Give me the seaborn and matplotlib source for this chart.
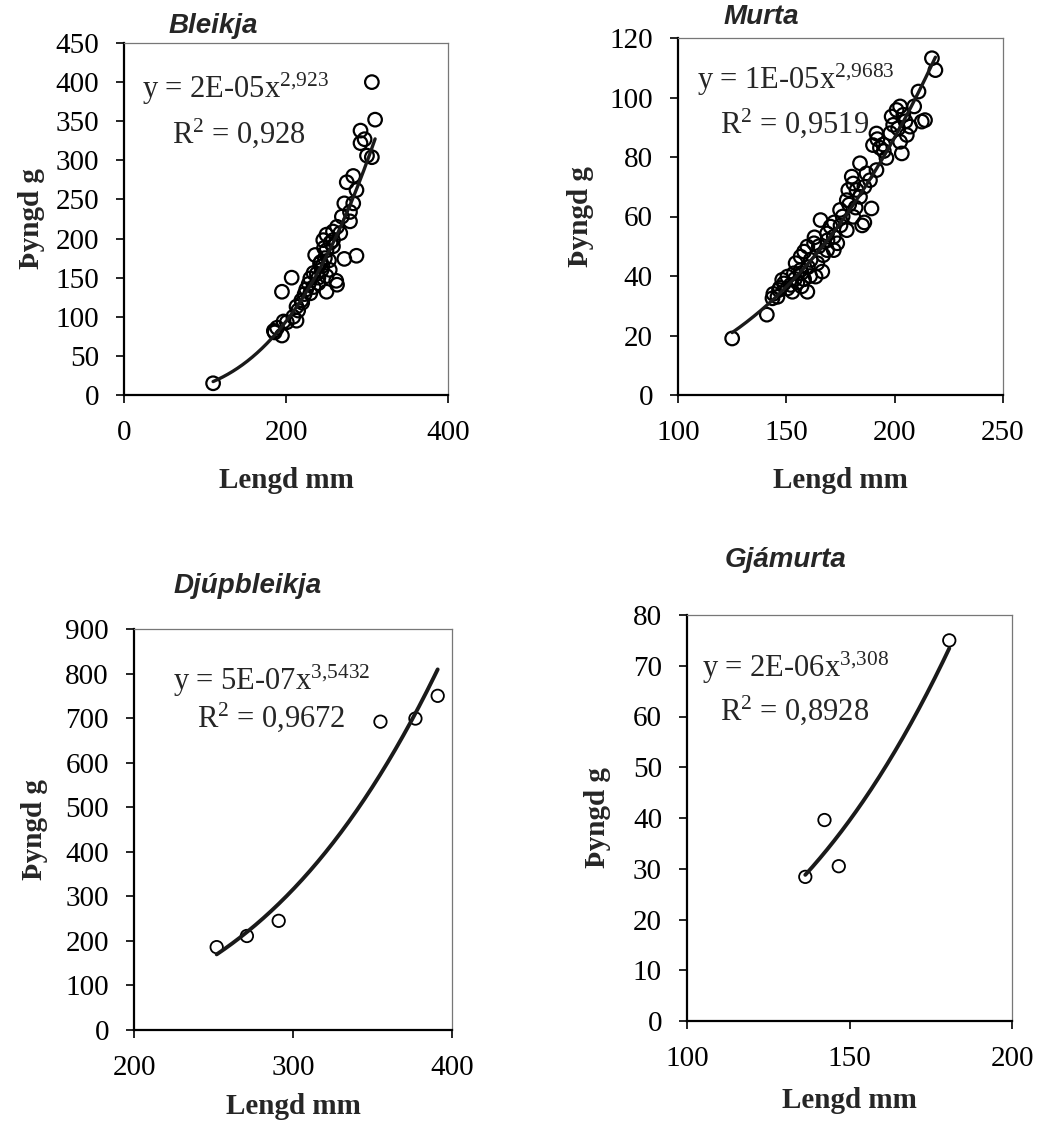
import numpy as np
import pandas as pd
import matplotlib
matplotlib.use("Agg")
import matplotlib.pyplot as plt
import seaborn as sns

# ---------------- data ----------------
bleikja_x = [110, 186, 189, 185, 195, 197, 201, 209, 213, 195, 207, 213, 219, 223, 215, 220,
             230, 234, 234, 240, 244, 250, 254, 250, 263, 262, 236, 242, 250, 253, 258, 245,
             248, 246, 258, 250, 258, 267, 263, 255, 269, 279, 279, 272, 283, 287, 275, 283,
             272, 287, 300, 306, 292, 297, 292, 310, 306, 225, 230, 240, 228, 238, 243, 247]
bleikja_y = [15, 80, 86, 82, 76, 94, 93, 100, 95, 132, 150, 113, 121, 129, 108, 118,
             149, 156, 138, 143, 160, 152, 160, 132, 141, 146, 179, 168, 185, 172, 190, 165,
             175, 198, 198, 205, 209, 207, 215, 195, 228, 222, 234, 245, 245, 262, 272, 280,
             174, 178, 306, 304, 322, 327, 338, 352, 400, 135, 130, 150, 142, 155, 170, 188]

murta_x = [125, 141, 143.6, 145.9, 146.6, 148.9, 150.5, 148.1, 152.8, 159.7,
           150.5, 153.5, 156.6, 155.1, 158.2, 144, 147, 152, 154, 157,
           154.3, 156.6, 158.2, 159.7, 162.8, 161.2, 164.3, 163.5, 166.6, 160,
           165.8, 170.4, 171.9, 168.8, 168.8, 171.9, 173.5, 167, 165, 163,
           174.8, 177.9, 178.6, 180.9, 180.2, 182.4, 184, 177.9, 180.9, 176,
           185, 186, 189.3, 184, 187, 188.6, 191.6, 179, 182, 175,
           191.6, 194.7, 193.2, 196.2, 190, 192,
           198.6, 200.9, 202.5, 204, 199.3, 201.6, 202.5, 205.6, 203.3, 207.1, 212.5, 214, 198, 205,
           211, 217.2, 218.8, 209, 169, 172, 186, 195, 157, 161]
murta_y = [19, 27, 32.5, 33, 35.3, 37.5, 35.8, 38.7, 34.7, 34.7,
           39.8, 40.9, 42, 37.8, 38.9, 34, 36, 37, 39, 36.5,
           44.3, 46.5, 48.2, 49.9, 51, 45.4, 44.3, 39.8, 41.5, 43,
           58.8, 56.6, 53.2, 54.3, 48.7, 48.7, 51, 47, 50, 53,
           62.2, 65.5, 68.9, 71.1, 73.4, 68.9, 66.6, 55.4, 59.9, 60,
           57, 58, 62.7, 77.9, 74.5, 72.2, 75.6, 64, 63, 57,
           87.9, 84.2, 83.1, 79.7, 84, 86,
           93.6, 95.8, 97, 94.2, 90.8, 89.6, 85.1, 87.4, 81.2, 90.2, 91.9, 92.4, 88, 92,
           102, 113.2, 109.2, 97, 52, 58, 70, 82, 41, 40]

djup_x = [252, 271, 291, 355, 377, 391]
djup_y = [186, 211, 245, 692, 699, 750]

gja_x = [136.4, 142.3, 146.7, 180.7]
gja_y = [28.4, 39.6, 30.5, 75.0]

titles = ["Bleikja", "Murta", "Djúpbleikja", "Gjámurta"]
equations = [r"y = 2E-05x$^{\mathrm{2{,}923}}$", r"y = 1E-05x$^{\mathrm{2{,}9683}}$",
             r"y = 5E-07x$^{\mathrm{3{,}5432}}$", r"y = 2E-06x$^{\mathrm{3{,}308}}$"]
r2_texts = [r"R$^{\mathrm{2}}$ = 0,928", r"R$^{\mathrm{2}}$ = 0,9519",
            r"R$^{\mathrm{2}}$ = 0,9672", r"R$^{\mathrm{2}}$ = 0,8928"]
x_ticks = [[0, 200, 400], [100, 150, 200, 250], [200, 300, 400], [100, 150, 200]]
y_ticks = [list(range(0, 451, 50)), list(range(0, 121, 20)),
           list(range(0, 901, 100)), list(range(0, 81, 10))]
x_label = "Lengd mm"
y_label = "Þyngd g"

# ---------------- style ----------------
sns.set_style("ticks")
plt.rcParams["font.family"] = ["Liberation Serif", "DejaVu Serif"]
plt.rcParams["mathtext.fontset"] = "custom"
plt.rcParams["mathtext.rm"] = "Liberation Serif"
plt.rcParams["mathtext.it"] = "Liberation Serif:italic"

W, H = 1038, 1137
fig = plt.figure(figsize=(W / 100, H / 100), dpi=100)
fig.patch.set_facecolor("white")


def box(l, t, r, b):
    return [l / W, 1 - b / H, (r - l) / W, (b - t) / H]


layout = [
    dict(box=(124, 43, 448, 395), s=95, mlw=1.6, llw=2.4,
         title=(213, 33, "center"), eq=(142, 98), r2=(172, 143), ylab=-0.245, xpad=15),
    dict(box=(678, 38, 1003, 395), s=95, mlw=1.6, llw=2.4,
         title=(761, 24, "center"), eq=(697, 89), r2=(720, 133), ylab=-0.26, xpad=15),
    dict(box=(134, 629, 452, 1030), s=80, mlw=1.3, llw=2.8,
         title=(248, 593, "center"), eq=(173, 690), r2=(197, 727), ylab=-0.27, xpad=9),
    dict(box=(687, 615, 1012, 1021), s=80, mlw=1.3, llw=2.8,
         title=(786, 567, "center"), eq=(702, 677), r2=(720, 720), ylab=-0.235, xpad=11),
]
datasets = [(bleikja_x, bleikja_y), (murta_x, murta_y), (djup_x, djup_y), (gja_x, gja_y)]

for i, (lay, (xv, yv)) in enumerate(zip(layout, datasets)):
    ax = fig.add_axes(box(*lay["box"]))
    df = pd.DataFrame({"x": xv, "y": yv})
    sns.scatterplot(data=df, x="x", y="y", ax=ax, marker="o", s=lay["s"],
                    facecolor="none", edgecolor="black", linewidth=lay["mlw"], zorder=2)
    # power trendline fitted on log-log scale (as Excel does)
    b, a = np.polyfit(np.log(df["x"]), np.log(df["y"]), 1)
    xs = np.linspace(df["x"].min(), df["x"].max(), 200)
    fit = pd.DataFrame({"x": xs, "y": np.exp(a) * xs ** b})
    sns.lineplot(data=fit, x="x", y="y", ax=ax, color="#1a1a1a", lw=lay["llw"],
                 estimator=None, zorder=3)

    ax.set_xlim(x_ticks[i][0], x_ticks[i][-1])
    ax.set_ylim(y_ticks[i][0], y_ticks[i][-1])
    ax.set_xticks(x_ticks[i])
    ax.set_yticks(y_ticks[i])
    ax.tick_params(axis="both", direction="out", length=6, width=1.2, colors="black",
                   labelsize=21, pad=12)
    for sp in ["left", "bottom"]:
        ax.spines[sp].set_linewidth(1.6)
        ax.spines[sp].set_color("black")
    for sp in ["top", "right"]:
        ax.spines[sp].set_visible(True)
        ax.spines[sp].set_linewidth(0.9)
        ax.spines[sp].set_color("#777777")
    ax.set_xlabel(x_label, fontsize=21, fontweight="bold", labelpad=lay["xpad"])
    ax.set_ylabel(y_label, fontsize=21, fontweight="bold")
    ax.yaxis.set_label_coords(lay["ylab"], 0.5)

    tx, ty, tha = lay["title"]
    fig.text(tx / W, 1 - ty / H, titles[i], ha=tha, va="baseline",
             family="Liberation Sans", fontsize=20, fontweight="bold", style="italic")
    ex, ey = lay["eq"]
    fig.text(ex / W, 1 - ey / H, equations[i], ha="left", va="baseline", fontsize=22)
    rx, ry = lay["r2"]
    fig.text(rx / W, 1 - ry / H, r2_texts[i], ha="left", va="baseline", fontsize=22)

fig.savefig("out.png", dpi=100, facecolor="white")
